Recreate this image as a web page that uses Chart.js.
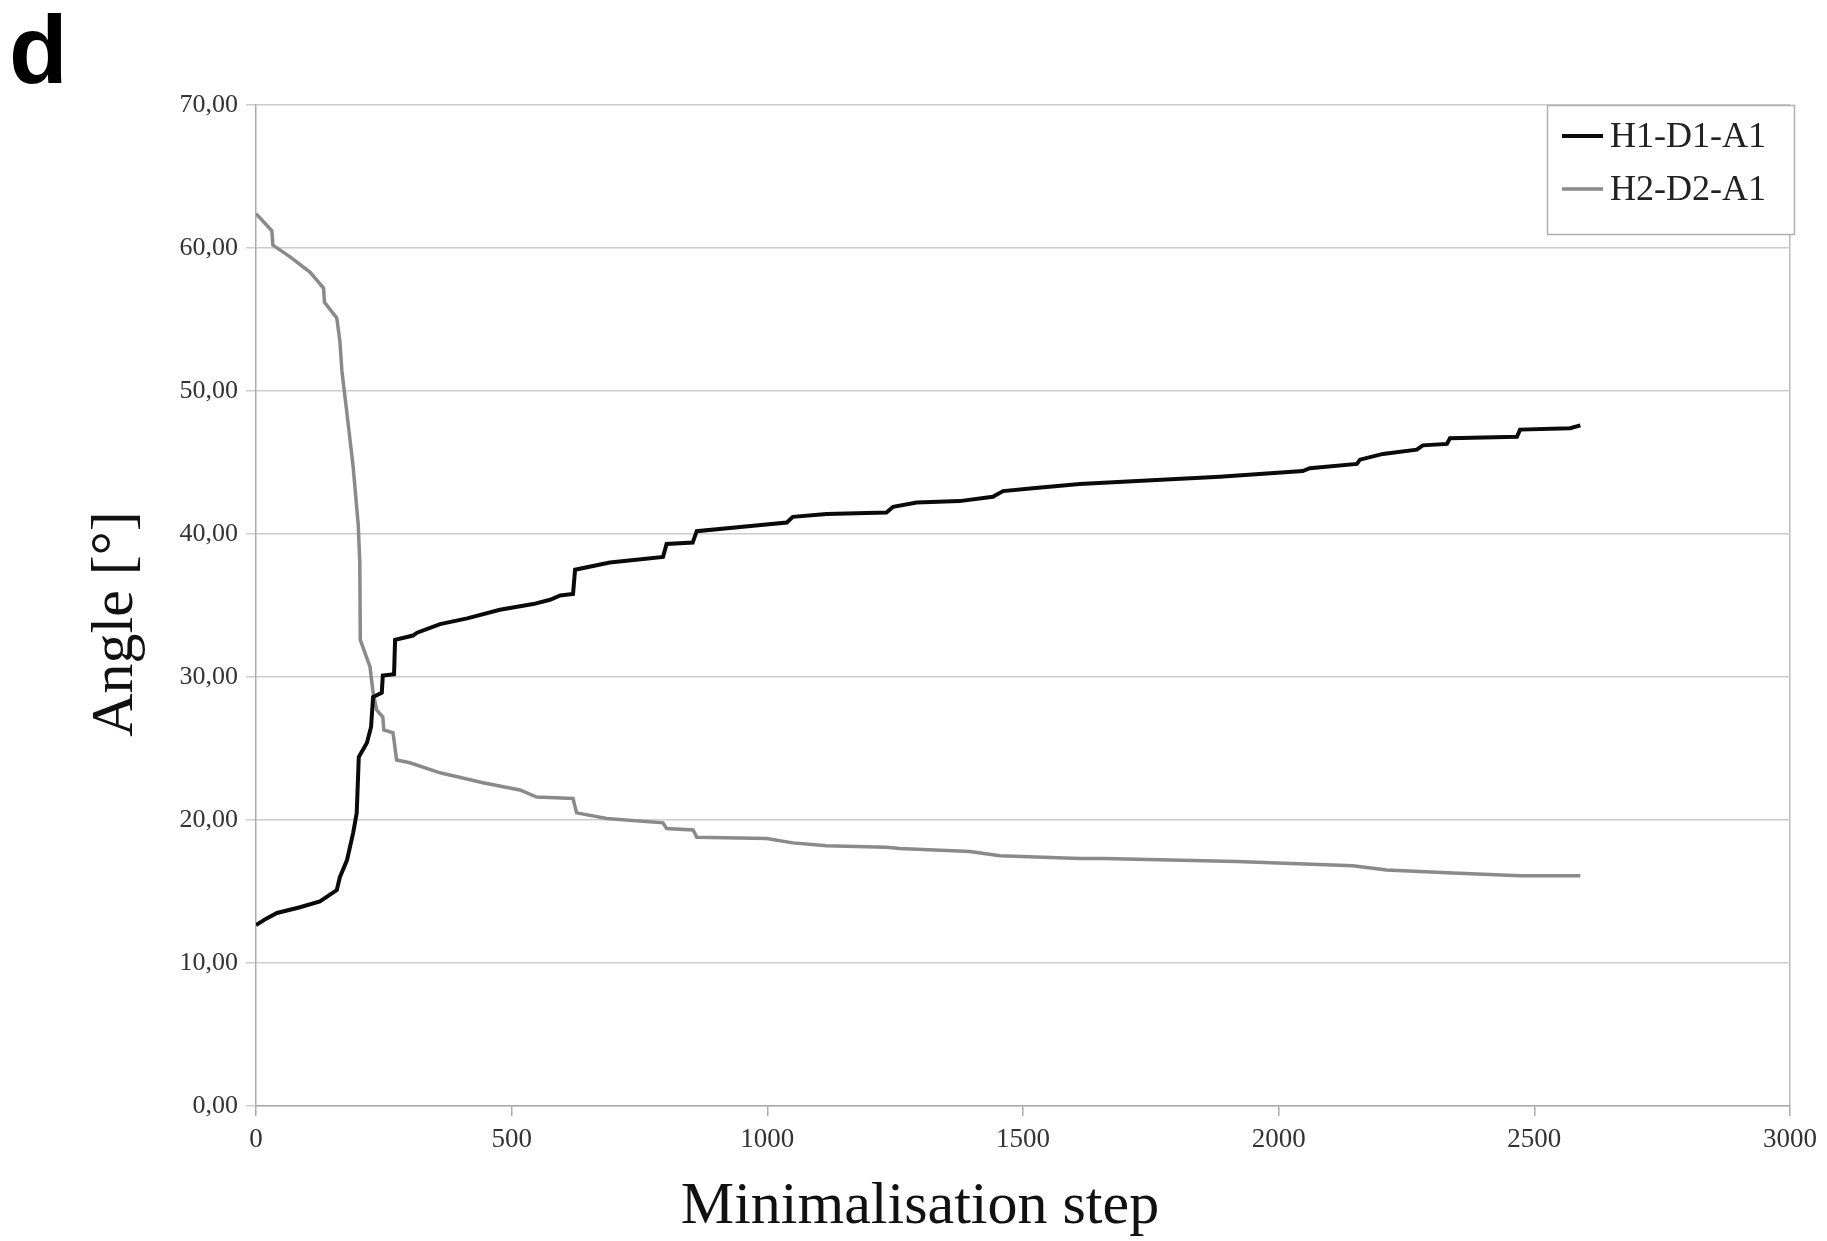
<!DOCTYPE html>
<html>
<head>
<meta charset="utf-8">
<script src="https://cdn.jsdelivr.net/npm/chart.js@4.4.1/dist/chart.umd.min.js"></script>
<style>
  body { margin: 0; background: #fff; }
  #wrap { position: relative; width: 1827px; height: 1241px; }
  #panel { position: absolute; left: 9px; top: 2px; font: bold 96px "Liberation Sans", Arial, sans-serif; line-height: 96px; color: #000; }
  canvas { position: absolute; left: 0; top: 0; }
</style>
</head>
<body>
<div id="wrap">
  <canvas id="chart" width="1827" height="1241"></canvas>
  <div id="panel">d</div>
</div>
<script>
// values (minimisation step -> angle in degrees)
var steps1 = [0, 20, 41, 86, 125, 158, 164, 178, 190, 197, 201, 217, 225, 229, 246, 248, 270, 272, 307, 315,
  360, 413, 477, 542, 575, 595, 620, 624, 692, 796, 803, 854, 862, 952, 1038, 1050, 1116, 1233, 1246, 1292,
  1376, 1441, 1461, 1519, 1611, 1723, 1885, 2047, 2061, 2153, 2159, 2204, 2270, 2282, 2329, 2335, 2466, 2472, 2570, 2590];
var angle1 = [12.65, 13.1, 13.5, 13.9, 14.3, 15.1, 16.0, 17.2, 19.1, 20.5, 24.4, 25.4, 26.5, 28.6, 28.9, 30.1, 30.2, 32.6, 32.9, 33.1,
  33.7, 34.1, 34.7, 35.1, 35.4, 35.7, 35.8, 37.5, 38.0, 38.4, 39.3, 39.4, 40.2, 40.5, 40.8, 41.2, 41.4, 41.5, 41.9, 42.2,
  42.3, 42.6, 43.0, 43.2, 43.5, 43.7, 44.0, 44.4, 44.6, 44.9, 45.2, 45.6, 45.9, 46.2, 46.3, 46.7, 46.8, 47.3, 47.4, 47.6];

var steps2 = [0, 31, 33, 66, 106, 132, 134, 158, 164, 168, 177, 190, 200, 203, 204, 223, 229, 236, 248, 250,
  268, 275, 301, 360, 444, 516, 549, 620, 627, 686, 796, 803, 855, 862, 999, 1050, 1116, 1233, 1259, 1396,
  1455, 1611, 1657, 1918, 2145, 2211, 2341, 2472, 2590];
var angle2 = [62.4, 61.2, 60.2, 59.4, 58.3, 57.2, 56.2, 55.1, 53.5, 51.4, 48.7, 44.7, 40.6, 38.0, 32.6, 30.7, 28.9, 27.7, 27.2, 26.3,
  26.1, 24.2, 24.0, 23.3, 22.6, 22.1, 21.6, 21.5, 20.5, 20.1, 19.8, 19.4, 19.3, 18.8, 18.7, 18.4, 18.2, 18.1, 18.0, 17.8,
  17.5, 17.3, 17.3, 17.1, 16.8, 16.5, 16.3, 16.1, 16.1];

var seriesNames = ['H1-D1-A1', 'H2-D2-A1'];
var xTitle = 'Minimalisation step';
var yTitle = 'Angle [°]';
var xMin = 0, xMax = 3000, xStep = 500;
var yMin = 0, yMax = 70, yStep = 10;

function toPoints(xs, ys) {
  var pts = [];
  for (var i = 0; i < xs.length; i++) {
    pts.push({ x: xs[i], y: ys[i] });
  }
  return pts;
}

var serif = '"Liberation Serif", "Times New Roman", serif';

// axis titles and the boxed legend inside the plot
var overlay = {
  id: 'overlay',
  afterDraw: function(chart) {
    var ctx = chart.ctx;
    ctx.save();
    ctx.fillStyle = '#111';
    ctx.font = '60px ' + serif;
    ctx.textAlign = 'center';
    ctx.textBaseline = 'alphabetic';
    ctx.fillText(xTitle, 920, 1223);
    ctx.save();
    ctx.translate(132, 624);
    ctx.rotate(-Math.PI / 2);
    ctx.fillText(yTitle, 0, 0);
    ctx.restore();

    // legend box
    ctx.fillStyle = '#fff';
    ctx.fillRect(1547, 105, 248, 130);
    ctx.strokeStyle = '#b0b0b0';
    ctx.lineWidth = 1.5;
    ctx.strokeRect(1547.5, 105.5, 247, 129);
    ctx.font = '36px ' + serif;
    ctx.textAlign = 'left';
    ctx.textBaseline = 'middle';
    chart.data.datasets.forEach(function(ds, i) {
      var y = 136 + i * 53;
      ctx.strokeStyle = ds.borderColor;
      ctx.lineWidth = ds.borderWidth;
      ctx.beginPath();
      ctx.moveTo(1562, y);
      ctx.lineTo(1603, y);
      ctx.stroke();
      ctx.fillStyle = '#222';
      ctx.fillText(ds.label, 1610, y + 2);
    });
    ctx.restore();
  }
};

var chart = new Chart(document.getElementById('chart'), {
  type: 'line',
  data: {
    datasets: [{
      label: seriesNames[0],
      data: toPoints(steps1, angle1),
      borderColor: '#0a0a0a',
      borderWidth: 4,
      pointRadius: 0,
      tension: 0
    }, {
      label: seriesNames[1],
      data: toPoints(steps2, angle2),
      borderColor: '#8a8a8a',
      borderWidth: 3.5,
      pointRadius: 0,
      tension: 0
    }]
  },
  options: {
    responsive: false,
    animation: false,
    layout: { padding: { left: 0, top: 105, right: 37, bottom: 0 } },
    plugins: {
      legend: { display: false },
      tooltip: { enabled: false }
    },
    scales: {
      x: {
        type: 'linear',
        min: xMin,
        max: xMax,
        ticks: {
          stepSize: xStep,
          padding: 8,
          color: '#333',
          font: { family: serif, size: 27 },
          maxRotation: 0,
          callback: function(v) { return String(v); }
        },
        grid: {
          drawOnChartArea: true,
          tickLength: 10,
          lineWidth: 1.5,
          tickColor: '#aaa',
          color: function(c) { return (c.tick && c.tick.value === xMax) ? '#bbb' : 'rgba(0,0,0,0)'; }
        },
        border: { display: true, color: '#aaa', width: 1.5 },
        afterFit: function(scale) { scale.height = 135; }
      },
      y: {
        min: yMin,
        max: yMax,
        ticks: {
          stepSize: yStep,
          padding: 8,
          color: '#333',
          font: { family: serif, size: 26 },
          callback: function(v) { return v.toFixed(2).replace('.', ','); }
        },
        grid: {
          color: '#cccccc',
          lineWidth: 1.5,
          tickLength: 10
        },
        border: { display: true, color: '#aaa', width: 1.5 },
        afterFit: function(scale) { scale.width = 256; }
      }
    }
  },
  plugins: [overlay]
});
</script>
</body>
</html>
